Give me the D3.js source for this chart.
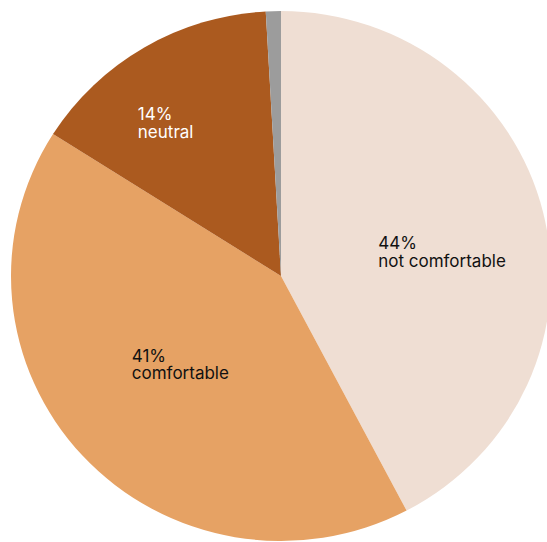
<!DOCTYPE html>
<html>
<head>
<meta charset="utf-8">
<script src="https://cdn.jsdelivr.net/npm/d3@7"></script>
<style>
  body { margin: 0; background: #fff; }
  svg { display: block; }
</style>
</head>
<body>
<div id="chart"></div>
<script>
const categories = ["not comfortable", "comfortable", "neutral", "other"];
const shares = [42.3, 41.7, 15.1, 0.9];
const pctLabels = ["44%", "41%", "14%", ""];
const colors = ["#efded3", "#e6a264", "#ab5a1f", "#9c9c9c"];
const textColors = ["#111", "#111", "#fff", "#111"];

const width = 547;
const height = 542;
const cx = 281, cy = 276;
const radius = 270;
const squash = 265 / 270;
const lineHeight = 17.5;

// label nudges relative to the arc centroid (left edge, first baseline)
const labelNudge = [[-47, 8], [-40, -13], [-68, -30], [0, 0]];

const data = categories.map((c, i) => ({ cat: c, value: shares[i], pct: pctLabels[i], i }));

const svg = d3.select("#chart")
    .append("svg")
    .attr("width", width)
    .attr("height", height);

const pie = d3.pie()
    .sort(null)
    .value(d => d.value);

const arcs = pie(data);

const arc = d3.arc().innerRadius(0).outerRadius(radius);
const labelArc = d3.arc().innerRadius(radius * 0.55).outerRadius(radius * 0.55);

svg.append("g")
    .attr("transform", `translate(${cx}, ${cy}) scale(1, ${squash})`)
    .selectAll("path")
    .data(arcs)
    .enter().append("path")
    .attr("d", arc)
    .attr("fill", d => colors[d.data.i]);

const labels = svg.append("g")
    .selectAll("text")
    .data(arcs.filter(d => d.data.pct))
    .enter().append("text")
    .attr("transform", d => {
        const [x, y] = labelArc.centroid(d);
        const n = labelNudge[d.data.i];
        return `translate(${cx + x + n[0]}, ${cy + y * squash + n[1]})`;
    })
    .attr("fill", d => textColors[d.data.i])
    .style("font-family", "Inter, 'Noto Sans', sans-serif")
    .style("font-size", "17px");

labels.append("tspan")
    .attr("x", 0)
    .attr("y", 0)
    .text(d => d.data.pct);

labels.append("tspan")
    .attr("x", 0)
    .attr("y", lineHeight)
    .text(d => d.data.cat);
</script>
</body>
</html>
